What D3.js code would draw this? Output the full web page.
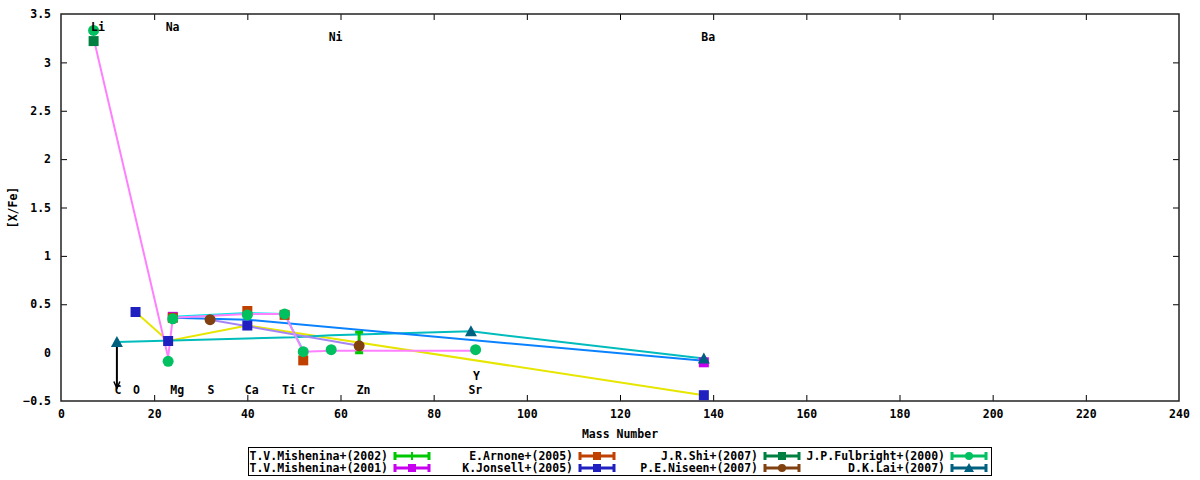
<!DOCTYPE html>
<html>
<head>
<meta charset="utf-8">
<script src="https://cdn.jsdelivr.net/npm/d3@7"></script>
<style>
    body { margin: 0; background: #fff; }
    text { font-family: 'DejaVu Sans Mono', monospace; font-weight: bold; font-size: 11.5px; fill: #000; }
</style>
</head>
<body>
<svg id="chart" width="1200" height="480"></svg>
<script>
// model lines (no legend entry)
const lineYellow = [[16, 0.42], [23, 0.12], [40, 0.28], [138, -0.44]];
const linePink = [[7, 3.25], [23, -0.05], [24, 0.36], [40, 0.40], [48, 0.40], [52, 0.01], [58, 0.02], [89, 0.02]];
const lineCyan = [[24, 0.37], [40, 0.41], [48, 0.40], [52, 0.02]];
const lineTeal = [[12, 0.11], [50, 0.16], [58, 0.18], [88, 0.22], [138, -0.06]];
const lineBlue = [[24, 0.36], [40, 0.34], [138, -0.085]];
const lineLavender = [[32, 0.34], [64, 0.07]];

// observations [mass, [X/Fe], low, high]
const mishenina2002 = [[64, 0.10, 0.0, 0.21]];
const mishenina2001 = [[24, 0.37], [138, -0.10]];
const arnone = [[24, 0.36], [40, 0.43], [48, 0.39], [52, -0.08]];
const jonsell = [[16, 0.42], [23, 0.12], [40, 0.28], [138, -0.44]];
const shi = [[7, 3.22]];
const niseen = [[32, 0.34], [64, 0.07]];
const fulbright = [[7, 3.33], [23, -0.09], [24, 0.35], [40, 0.39], [48, 0.40], [52, 0.01], [58, 0.03], [89, 0.03]];
const lai = [[12, 0.11], [88, 0.22], [138, -0.06]];

// upper limit arrow for C
const limitArrow = [[12, 0.11], [12, -0.37]];

// element labels [name, mass, y]
const elementLabels = [
    ['Li', 7, 3.37], ['Na', 23, 3.37], ['Ni', 58, 3.26], ['Ba', 138, 3.26],
    ['C', 12, -0.39], ['O', 16, -0.39], ['Mg', 24, -0.39], ['S', 32, -0.39],
    ['Ca', 40, -0.39], ['Ti', 48, -0.39], ['Cr', 52, -0.39], ['Zn', 64, -0.39],
    ['Sr', 88, -0.39], ['Y', 89, -0.24]
];

const xTicks = d3.range(0, 241, 20);
const yTicks = [-0.5, 0, 0.5, 1, 1.5, 2, 2.5, 3, 3.5];

const svg = d3.select('#chart');
const plotL = 61, plotR = 1179, plotT = 14, plotB = 401;

const x = d3.scaleLinear().domain([0, 240]).range([plotL, plotR]);
const y = d3.scaleLinear().domain([-0.5, 3.5]).range([plotB, plotT]);

const line = d3.line().x(d => x(d[0])).y(d => y(d[1]));

// axes, ticks mirrored on all four sides like gnuplot
const axisG = svg.append('g');
axisG.append('g')
    .attr('transform', `translate(0,${plotB})`)
    .call(d3.axisBottom(x).tickValues(xTicks).tickSize(-6).tickPadding(9).tickFormat(d3.format('d')));
axisG.append('g')
    .attr('transform', `translate(0,${plotT})`)
    .call(d3.axisTop(x).tickValues(xTicks).tickSize(-6).tickFormat(''));
axisG.append('g')
    .attr('transform', `translate(${plotL},0)`)
    .call(d3.axisLeft(y).tickValues(yTicks).tickSize(-6).tickPadding(10).tickFormat(d => d === 0 ? '0' : d3.format('.1~f')(d)));
axisG.append('g')
    .attr('transform', `translate(${plotR},0)`)
    .call(d3.axisRight(y).tickValues(yTicks).tickSize(-6).tickFormat(''));
axisG.selectAll('.domain').remove();
axisG.selectAll('.tick line').attr('stroke', '#000').attr('stroke-width', 1);
axisG.selectAll('.tick text')
    .style('font-family', "'DejaVu Sans Mono', monospace")
    .style('font-weight', 'bold')
    .style('font-size', '11.5px')
    .attr('fill', '#000');
// drop the duplicate tick at the corners
axisG.selectAll('.tick').filter(d => d === 0 || d === 240 || d === -0.5 || d === 3.5).select('line').remove();

svg.append('rect')
    .attr('x', plotL).attr('y', plotT)
    .attr('width', plotR - plotL).attr('height', plotB - plotT)
    .attr('fill', 'none')
    .attr('stroke', '#222')
    .attr('stroke-width', 1.5);

svg.append('text')
    .attr('x', (plotL + plotR) / 2)
    .attr('y', 438)
    .attr('text-anchor', 'middle')
    .text('Mass Number');

svg.append('text')
    .attr('transform', `translate(17,${(plotT + plotB) / 2}) rotate(-90)`)
    .attr('text-anchor', 'middle')
    .text('[X/Fe]');

// lines under the markers
const lines = [
    {data: lineYellow, color: '#e6e600'},
    {data: lineTeal, color: '#00bcbc'},
    {data: lineBlue, color: '#0a82ff'},
    {data: lineLavender, color: '#a585f5'},
    {data: lineCyan, color: '#00e8e8'},
    {data: linePink, color: '#ff80ff'}
];
svg.append('g')
    .selectAll('path')
    .data(lines)
    .join('path')
    .attr('d', d => line(d.data))
    .attr('fill', 'none')
    .attr('stroke', d => d.color)
    .attr('stroke-width', 2);

// arrow
svg.append('path')
    .attr('d', line(limitArrow))
    .attr('stroke', '#000')
    .attr('stroke-width', 2)
    .attr('fill', 'none');
const tip = limitArrow[1];
svg.append('path')
    .attr('d', `M${x(tip[0]) - 3},${y(tip[1]) - 7} L${x(tip[0])},${y(tip[1])} L${x(tip[0]) + 3},${y(tip[1]) - 7}`)
    .attr('stroke', '#000')
    .attr('stroke-width', 1.5)
    .attr('fill', 'none');

const shapes = {
    square: s => `M${-s},${-s}H${s}V${s}H${-s}Z`,
    circle: s => d3.symbol(d3.symbolCircle, Math.PI * s * s)(),
    triangle: s => `M0,${-s - 1}L${s + 1},${s}L${-s - 1},${s}Z`,
    plus: s => `M${-s},-1H${s}V1H${-s}Z M-1,${-s}H1V${s}H-1Z`
};

const datasets = [
    {name: 'T.V.Mishenina+(2002)', data: mishenina2002, color: '#00c800', shape: 'plus', size: 4},
    {name: 'T.V.Mishenina+(2001)', data: mishenina2001, color: '#c800f0', shape: 'square', size: 5},
    {name: 'E.Arnone+(2005)', data: arnone, color: '#c04000', shape: 'square', size: 5},
    {name: 'K.Jonsell+(2005)', data: jonsell, color: '#2020c0', shape: 'square', size: 5},
    {name: 'J.R.Shi+(2007)', data: shi, color: '#008040', shape: 'square', size: 5},
    {name: 'P.E.Niseen+(2007)', data: niseen, color: '#804010', shape: 'circle', size: 5.5},
    {name: 'J.P.Fulbright+(2000)', data: fulbright, color: '#00c060', shape: 'circle', size: 5.5},
    {name: 'D.K.Lai+(2007)', data: lai, color: '#006080', shape: 'triangle', size: 5}
];

datasets.forEach(ds => {
    const g = svg.append('g');
    // error bars where given
    const withErr = ds.data.filter(d => d.length > 2);
    g.selectAll('path.err')
        .data(withErr)
        .join('path')
        .attr('class', 'err')
        .attr('d', d => `M${x(d[0])},${y(d[2])}V${y(d[3])} M${x(d[0]) - 4},${y(d[2])}H${x(d[0]) + 4} M${x(d[0]) - 4},${y(d[3])}H${x(d[0]) + 4}`)
        .attr('stroke', ds.color)
        .attr('stroke-width', 3)
        .attr('fill', 'none');
    g.selectAll('path.pt')
        .data(ds.data)
        .join('path')
        .attr('class', 'pt')
        .attr('transform', d => `translate(${x(d[0])},${y(d[1])})`)
        .attr('d', shapes[ds.shape](ds.size))
        .attr('fill', ds.color);
});

svg.append('g')
    .selectAll('text')
    .data(elementLabels)
    .join('text')
    .attr('x', d => x(d[1]) - 2.5)
    .attr('y', d => y(d[2]))
    .attr('dy', '0.35em')
    .text(d => d[0]);

// legend, filled column by column, two rows
const legend = svg.append('g');
legend.append('rect')
    .attr('x', 248.5).attr('y', 447.5)
    .attr('width', 743).attr('height', 28)
    .attr('fill', '#fff')
    .attr('stroke', '#000')
    .attr('stroke-width', 1);
const colEnd = [388, 573, 758, 945];
const rowY = [456, 468];
datasets.forEach((ds, i) => {
    const col = Math.floor(i / 2), row = i % 2;
    const tx = colEnd[col], ty = rowY[row];
    const x1 = tx + 6, x2 = x1 + 36;
    legend.append('text')
        .attr('x', tx).attr('y', ty)
        .attr('dy', '0.35em')
        .attr('text-anchor', 'end')
        .text(ds.name);
    legend.append('path')
        .attr('d', `M${x1},${ty}H${x2} M${x1 + 1},${ty - 4}V${ty + 4} M${x2 - 1},${ty - 4}V${ty + 4}`)
        .attr('stroke', ds.color)
        .attr('stroke-width', 3)
        .attr('fill', 'none');
    legend.append('path')
        .attr('transform', `translate(${(x1 + x2) / 2},${ty})`)
        .attr('d', shapes[ds.shape](4))
        .attr('fill', ds.color);
});
</script>
</body>
</html>
